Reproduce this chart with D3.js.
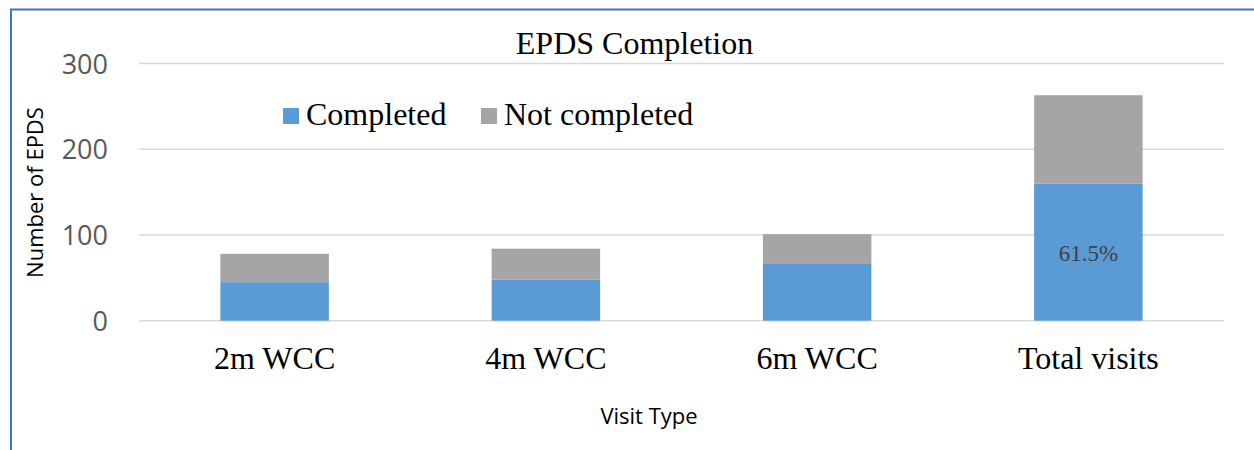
<!DOCTYPE html>
<html>
<head>
<meta charset="utf-8">
<script src="https://cdn.jsdelivr.net/npm/d3@7/dist/d3.min.js"></script>
<style>
  html, body { margin: 0; padding: 0; background: #fff; }
  svg { display: block; }
</style>
</head>
<body>
<svg id="chart" width="1254" height="450"></svg>
<script>
const categories = ["2m WCC", "4m WCC", "6m WCC", "Total visits"];
const completed = [45, 48, 67, 160];
const notCompleted = [33, 36, 34, 103];
const seriesNames = ["Completed", "Not completed"];
const yTicks = [0, 100, 200, 300];
const percentLabel = "61.5%";

const svg = d3.select("#chart");
const colors = ["#5b9bd5", "#a5a5a5"];

// frame border (blue)
svg.append("path")
  .attr("d", "M11,450 L11,9.5 L1254,9.5")
  .attr("fill", "none").attr("stroke", "#4472c4").attr("stroke-width", 2);

const x = d3.scaleBand().domain(categories).range([139, 1224]).paddingInner(0.6).paddingOuter(0.3);
const y = d3.scaleLinear().domain([0, 300]).range([320.7, 63.5]);

// gridlines
svg.append("g").selectAll("line").data(yTicks).join("line")
  .attr("x1", 139).attr("x2", 1224)
  .attr("y1", d => y(d)).attr("y2", d => y(d))
  .attr("stroke", "#d9d9d9").attr("stroke-width", 1.5);

// y tick labels
const yAxis = d3.axisLeft(y).tickValues(yTicks).tickSize(0).tickPadding(0);
const ya = svg.append("g").attr("transform", "translate(108,0)").call(yAxis);
ya.select(".domain").remove();
ya.selectAll("text")
  .attr("font-family", "'Open Sans', sans-serif").attr("font-size", 27)
  .attr("fill", "#595959").attr("dy", "0.36em");

// stacked bars
const data = categories.map((c, i) => ({ cat: c, Completed: completed[i], "Not completed": notCompleted[i] }));
const stack = d3.stack().keys(seriesNames)(data);
svg.append("g").selectAll("g").data(stack).join("g")
  .attr("fill", (d, i) => colors[i])
  .selectAll("rect").data(d => d).join("rect")
  .attr("x", d => x(d.data.cat))
  .attr("width", x.bandwidth())
  .attr("y", d => y(d[1]))
  .attr("height", d => y(d[0]) - y(d[1]));

// percent label on total completed
svg.append("text")
  .attr("x", x("Total visits") + x.bandwidth() / 2)
  .attr("y", 261)
  .attr("text-anchor", "middle")
  .attr("font-family", "'Liberation Serif', 'Times New Roman', serif")
  .attr("font-size", 23).attr("fill", "#404040")
  .text(percentLabel);

// x tick labels
const xAxis = d3.axisBottom(x).tickSize(0).tickPadding(0);
const xa = svg.append("g").attr("transform", "translate(0,369)").call(xAxis);
xa.select(".domain").remove();
xa.selectAll("text")
  .attr("dy", 0)
  .attr("font-family", "'Liberation Serif', 'Times New Roman', serif")
  .attr("font-size", 32).attr("fill", "#000");

// title
svg.append("text")
  .attr("x", 634.5).attr("y", 54)
  .attr("text-anchor", "middle")
  .attr("font-family", "'Liberation Serif', 'Times New Roman', serif")
  .attr("font-size", 32).attr("fill", "#000")
  .text("EPDS Completion");

// legend
const legendX = [283, 481];
const lg = svg.append("g");
seriesNames.forEach((name, i) => {
  lg.append("rect").attr("x", legendX[i]).attr("y", 108).attr("width", 16).attr("height", 16).attr("fill", colors[i]);
  lg.append("text").attr("x", legendX[i] + 23).attr("y", 124.5)
    .attr("font-family", "'Liberation Serif', 'Times New Roman', serif")
    .attr("font-size", 32).attr("fill", "#000")
    .text(name);
});

// axis titles
svg.append("text")
  .attr("transform", "translate(43,192.5) rotate(-90)")
  .attr("text-anchor", "middle")
  .attr("font-family", "'Open Sans', sans-serif").attr("font-size", 22).attr("fill", "#000")
  .text("Number of EPDS");

svg.append("text")
  .attr("x", 649).attr("y", 424)
  .attr("text-anchor", "middle")
  .attr("font-family", "'Open Sans', sans-serif").attr("font-size", 22).attr("fill", "#000")
  .text("Visit Type");
</script>
</body>
</html>
